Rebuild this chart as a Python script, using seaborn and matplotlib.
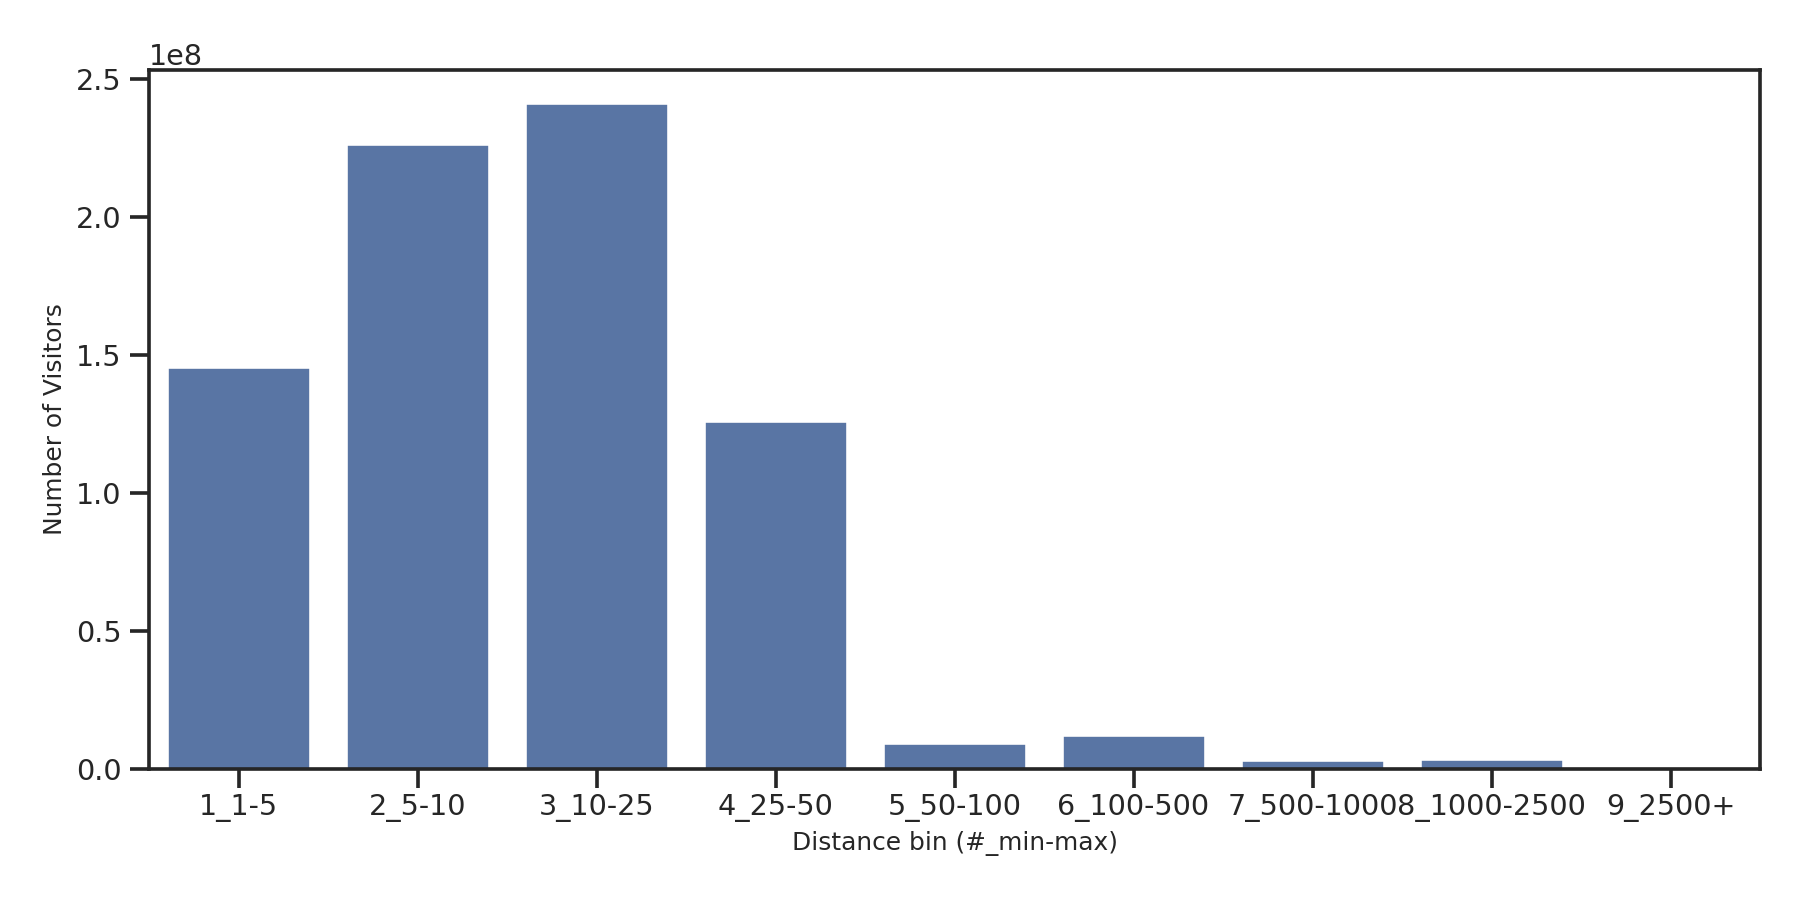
import matplotlib
matplotlib.use("Agg")
import matplotlib.pyplot as plt
import seaborn as sns
import pandas as pd

categories = ["1_1-5", "2_5-10", "3_10-25", "4_25-50", "5_50-100",
              "6_100-500", "7_500-1000", "8_1000-2500", "9_2500+"]
visitors = [1.454e8, 2.264e8, 2.410e8, 1.258e8, 0.092e8,
            0.121e8, 0.030e8, 0.034e8, 0.0004e8]

df = pd.DataFrame({"Distance bin (#_min-max)": categories,
                   "Number of Visitors": visitors})

sns.set_theme(style="ticks", context="talk")
plt.rcParams.update({
    "axes.linewidth": 2.1,
    "xtick.major.width": 2.1,
    "ytick.major.width": 2.1,
    "xtick.major.size": 11.0,
    "ytick.major.size": 11.0,
    "xtick.major.pad": 3.4,
    "ytick.major.pad": 5.0,
})

fig, ax = plt.subplots(figsize=(14.4, 7.2), dpi=125)
fig.subplots_adjust(left=0.0828, right=0.9778, top=0.922, bottom=0.146)

sns.barplot(data=df, x="Distance bin (#_min-max)", y="Number of Visitors",
            color="#4C72B0", ax=ax)

ax.set_xlabel("Distance bin (#_min-max)", fontsize=14.3, labelpad=5.2)
ax.set_ylabel("Number of Visitors", fontsize=14.3, labelpad=4.7)

fig.savefig("out.png", dpi=125)
